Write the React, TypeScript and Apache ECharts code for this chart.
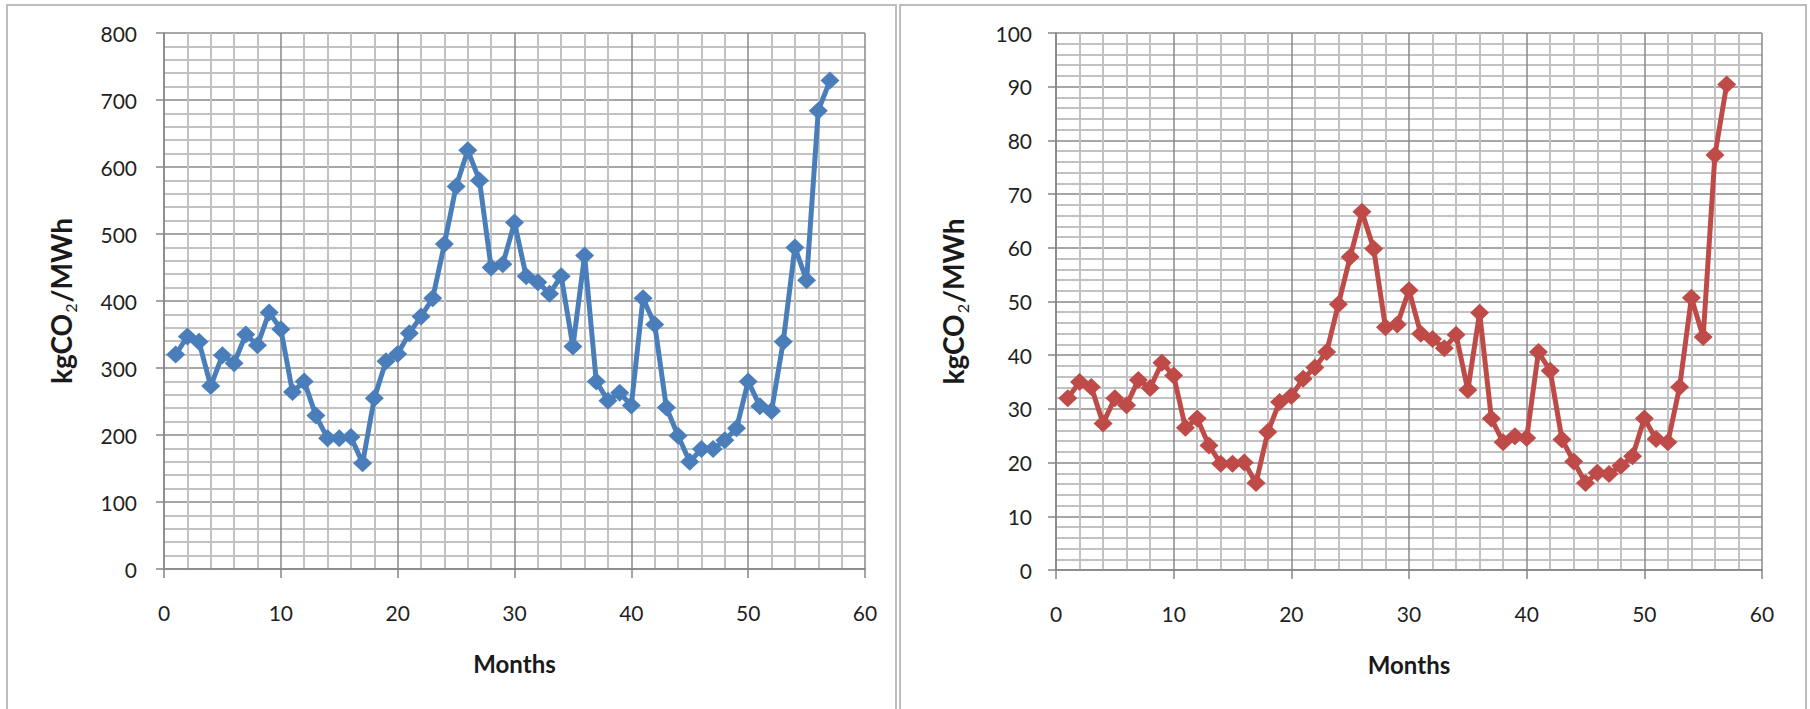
import React, { useEffect, useRef } from "react";
import * as echarts from "echarts";

const months = [
  1, 2, 3, 4, 5, 6, 7, 8, 9, 10, 11, 12, 13, 14, 15, 16, 17, 18, 19, 20,
  21, 22, 23, 24, 25, 26, 27, 28, 29, 30, 31, 32, 33, 34, 35, 36, 37, 38, 39, 40,
  41, 42, 43, 44, 45, 46, 47, 48, 49, 50, 51, 52, 53, 54, 55, 56, 57,
];

const leftValues = [
  320, 347, 339, 273, 319, 307, 350, 334, 383, 358, 264, 280, 229, 195, 195, 197, 158, 255, 310, 321,
  352, 377, 404, 485, 571, 625, 580, 450, 455, 517, 437, 428, 411, 437, 332, 468, 280, 251, 263, 244,
  404, 365, 241, 199, 160, 179, 179, 192, 210, 280, 243, 236, 339, 480, 431, 684, 729,
];

const rightValues = [
  32.0, 35.0, 34.1, 27.3, 32.0, 30.7, 35.4, 33.9, 38.6, 36.2, 26.5, 28.2, 23.2, 19.8, 19.8, 20.0, 16.2, 25.7, 31.3, 32.4,
  35.6, 37.7, 40.6, 49.5, 58.3, 66.7, 59.8, 45.2, 45.7, 52.1, 44.0, 43.0, 41.3, 43.8, 33.5, 47.9, 28.2, 23.8, 24.9, 24.6,
  40.6, 37.1, 24.3, 20.2, 16.2, 18.1, 17.9, 19.4, 21.2, 28.2, 24.4, 23.8, 34.1, 50.7, 43.4, 77.3, 90.4,
];

const xTicks = { min: 0, max: 60, interval: 10 };
const leftYTicks = { min: 0, max: 800, interval: 100 };
const rightYTicks = { min: 0, max: 100, interval: 10 };

const xTitle = "Months";
const yTitle = "{a|kgCO}{s|2}{a|/MWh}";

const FONT = "Lato, 'Open Sans', sans-serif";

function makeX(gridIndex: number) {
  return {
    type: "value",
    gridIndex,
    min: xTicks.min,
    max: xTicks.max,
    interval: xTicks.interval,
    name: xTitle,
    nameLocation: "middle",
    nameGap: 82,
    nameTextStyle: { fontFamily: FONT, fontSize: 24, fontWeight: "bold", color: "#1a1a1a" },
    axisLine: { show: true, onZero: false, lineStyle: { color: "#868686", width: 1.5 } },
    axisTick: { show: true, inside: false, length: 9, lineStyle: { color: "#868686", width: 1.5 } },
    minorTick: { show: false, splitNumber: 5 },
    axisLabel: { margin: 33, fontFamily: FONT, fontSize: 21, color: "#1f1f1f" },
    splitLine: { show: true, lineStyle: { color: "#8a8a8a", width: 1.5 } },
    minorSplitLine: { show: true, lineStyle: { color: "#c2c2c2", width: 2 } },
  };
}

function makeY(gridIndex: number, t: { min: number; max: number; interval: number }, margin: number) {
  return {
    type: "value",
    gridIndex,
    min: t.min,
    max: t.max,
    interval: t.interval,
    name: yTitle,
    nameLocation: "middle",
    nameRotate: 90,
    nameGap: 86,
    nameTextStyle: {
      fontFamily: FONT,
      color: "#1a1a1a",
      rich: {
        a: { fontFamily: FONT, fontSize: 28, fontWeight: "bold", color: "#1a1a1a", lineHeight: 34 },
        s: { fontFamily: FONT, fontSize: 16, fontWeight: "normal", color: "#1a1a1a", lineHeight: 34, verticalAlign: "bottom", padding: [14, 1, 0, 1] },
      },
    },
    axisLine: { show: true, onZero: false, lineStyle: { color: "#868686", width: 1.5 } },
    axisTick: { show: true, inside: false, length: 8, lineStyle: { color: "#868686", width: 1.5 } },
    minorTick: { show: false, splitNumber: 5 },
    axisLabel: { margin: margin, fontFamily: FONT, fontSize: 21, color: "#1f1f1f" },
    splitLine: { show: true, lineStyle: { color: "#8a8a8a", width: 1.5 } },
    minorSplitLine: { show: true, lineStyle: { color: "#c2c2c2", width: 2 } },
  };
}

function makeSeries(idx: number, values: number[], color: string) {
  return {
    type: "line",
    xAxisIndex: idx,
    yAxisIndex: idx,
    data: months.map((m, i) => [m, values[i]]),
    symbol: "diamond",
    symbolSize: [19, 18],
    showSymbol: true,
    lineStyle: { color, width: 5 },
    itemStyle: { color },
    z: 5,
  };
}

export default function App() {
  const ref = useRef<HTMLDivElement>(null);
  useEffect(() => {
    if (!ref.current) return;
    const chart = echarts.init(ref.current, undefined, { renderer: "svg" });
    chart.setOption({
      animation: false,
      backgroundColor: "#ffffff",
      grid: [
        { left: 164, top: 33, width: 701, height: 536, show: false },
        { left: 1056, top: 33, width: 706, height: 537, show: false },
      ],
      xAxis: [makeX(0), makeX(1)],
      yAxis: [makeY(0, leftYTicks, 27), makeY(1, rightYTicks, 24)],
      series: [makeSeries(0, leftValues, "#4A7EBB"), makeSeries(1, rightValues, "#BE4B48")],
      graphic: [
        {
          type: "rect",
          shape: { x: 7, y: 5, width: 889, height: 720 },
          style: { fill: "none", stroke: "#bdbdbd", lineWidth: 2 },
          silent: true,
        },
        {
          type: "rect",
          shape: { x: 900, y: 5, width: 906, height: 720 },
          style: { fill: "none", stroke: "#bdbdbd", lineWidth: 2 },
          silent: true,
        },
      ],
    });
    return () => chart.dispose();
  }, []);
  return (
    <div
      ref={ref}
      style={{ position: "absolute", left: 0, top: 0, width: 1810, height: 709 }}
    />
  );
}
